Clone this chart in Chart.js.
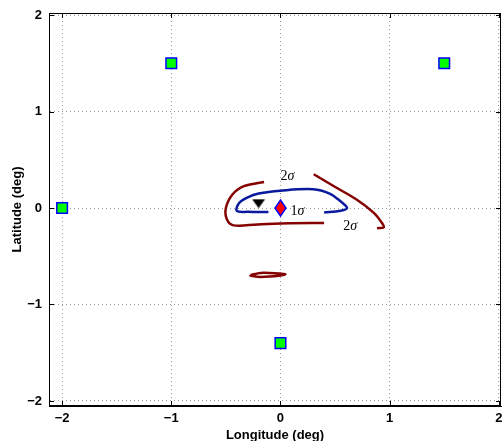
<!DOCTYPE html>
<html>
<head>
<meta charset="utf-8">
<script src="https://cdn.jsdelivr.net/npm/chart.js@4"></script>
<style>body{margin:0;background:#fff;overflow:hidden}</style>
</head>
<body>
<canvas id="Chart" width="502" height="441"></canvas>
<script>
const xTicks = [-2, -1, 0, 1, 2];
const yTicks = [-2, -1, 0, 1, 2];

// station positions (deg)
const stations = [[-1, 1.5], [1.5, 1.5], [-2, 0], [0, -1.4]];
const trueSource = [[0, 0]];
const bestFit = [[-0.2, 0.045]];

// 1 sigma contour
const contour1 = [
    [-0.11, -0.042], [-0.30, -0.040], [-0.40, -0.030], [-0.38, 0.05], [-0.30, 0.11],
    [-0.20, 0.15], [0.0, 0.18], [0.30, 0.195], [0.45, 0.15], [0.55, 0.07],
    [0.61, 0.0], [0.55, -0.028], [0.40, -0.046]
];
// 2 sigma contours
const contour2a = [
    [-0.15, 0.27], [-0.34, 0.225], [-0.44, 0.14], [-0.50, 0.0], [-0.49, -0.12],
    [-0.43, -0.18], [-0.21, -0.17], [0.09, -0.158], [0.40, -0.156]
];
const contour2b = [
    [0.305, 0.35], [0.49, 0.225], [0.70, 0.085], [0.855, -0.05], [0.93, -0.155],
    [0.946, -0.2], [0.885, -0.21]
];
const contour2c = [
    [-0.275, -0.695], [-0.18, -0.673], [0.0, -0.68], [0.046, -0.685], [0.0, -0.70],
    [-0.18, -0.715], [-0.275, -0.70], [-0.275, -0.695]
];

const sigmaLabels = [
    { x: 0.0, y: 0.33, n: '2' },
    { x: 0.092, y: -0.035, n: '1' },
    { x: 0.574, y: -0.19, n: '2' }
];

const pts = arr => arr.map(p => ({ x: p[0], y: p[1] }));
const fmt = v => v < 0 ? '\u2212' + Math.abs(v) : String(v);

function makeMarker(w, h, draw) {
    const c = document.createElement('canvas');
    c.width = w; c.height = h;
    draw(c.getContext('2d'), w, h);
    return c;
}
const diamond = makeMarker(13, 18, (g, w, h) => {
    g.beginPath();
    g.moveTo(w / 2, 1); g.lineTo(w - 1, h / 2); g.lineTo(w / 2, h - 1); g.lineTo(1, h / 2);
    g.closePath();
    g.fillStyle = '#ff0000'; g.fill();
    g.strokeStyle = '#0000ff'; g.lineWidth = 1.5; g.stroke();
});
const triangle = makeMarker(14, 10, (g, w, h) => {
    g.beginPath();
    g.moveTo(0.5, 0.5); g.lineTo(w - 0.5, 0.5); g.lineTo(w / 2, h - 0.5);
    g.closePath();
    g.fillStyle = '#000'; g.fill();
});

const frame = {
    id: 'frame',
    afterDraw(chart) {
        const { ctx, chartArea: a, scales: { x, y } } = chart;
        ctx.save();
        ctx.strokeStyle = '#000';
        ctx.lineWidth = 1;
        ctx.strokeRect(a.left + 0.5, a.top + 0.5, a.right - a.left - 1, a.bottom - a.top - 1);
        ctx.beginPath();
        xTicks.forEach(v => {
            const px = Math.round(x.getPixelForValue(v)) + 0.5;
            ctx.moveTo(px, a.bottom); ctx.lineTo(px, a.bottom - 5);
            ctx.moveTo(px, a.top); ctx.lineTo(px, a.top + 5);
        });
        yTicks.forEach(v => {
            const py = Math.round(y.getPixelForValue(v)) + 0.5;
            ctx.moveTo(a.left, py); ctx.lineTo(a.left + 5, py);
            ctx.moveTo(a.right, py); ctx.lineTo(a.right - 5, py);
        });
        ctx.stroke();

        ctx.fillStyle = '#000';
        ctx.textBaseline = 'middle';
        sigmaLabels.forEach(l => {
            const px = x.getPixelForValue(l.x), py = y.getPixelForValue(l.y);
            ctx.font = '14px "Liberation Serif"';
            ctx.fillText(l.n, px, py);
            const w = ctx.measureText(l.n).width;
            ctx.font = 'italic 14px "Liberation Serif"';
            ctx.fillText('\u03c3', px + w, py);
        });
        ctx.restore();
    }
};

const lineSet = (data, color) => ({
    data: pts(data),
    showLine: true,
    borderColor: color,
    borderWidth: 2.5,
    pointRadius: 0,
    tension: 0.35,
    fill: false
});

const tickFont = { family: '"Liberation Sans", Arial, sans-serif', size: 13, weight: 'bold' };

const noPad = s => { s.paddingLeft = 0; s.paddingRight = 0; s.paddingTop = 0; s.paddingBottom = 0; };

const ctx = document.getElementById('Chart').getContext('2d');
const chart = new Chart(ctx, {
    type: 'scatter',
    data: {
        datasets: [
            {
                data: pts(trueSource),
                pointStyle: diamond,
                pointRadius: 9
            },
            {
                data: pts(bestFit),
                pointStyle: triangle,
                pointRadius: 7
            },
            {
                data: pts(stations),
                pointStyle: 'rect',
                pointRadius: 7.5,
                backgroundColor: '#00ff00',
                borderColor: '#0000ff',
                borderWidth: 1.5
            },
            lineSet(contour1, '#0a1a9e'),
            lineSet(contour2a, '#850000'),
            lineSet(contour2b, '#850000'),
            lineSet(contour2c, '#850000')
        ]
    },
    options: {
        responsive: false,
        animation: false,
        layout: { autoPadding: false, padding: { top: 13, right: 1, left: 0, bottom: 0 } },
        plugins: { legend: { display: false }, tooltip: { enabled: false } },
        scales: {
            x: {
                type: 'linear',
                min: -2.12,
                max: 2.02,
                afterBuildTicks: s => { s.ticks = xTicks.map(v => ({ value: v })); },
                afterFit: s => { s.height = 35; noPad(s); },
                ticks: { callback: fmt, color: '#000', font: tickFont, padding: 5, maxRotation: 0 },
                grid: { color: '#999', drawTicks: false },
                border: { display: true, color: '#000', dash: [1, 3] },
                title: {
                    display: true, text: 'Longitude (deg)', color: '#000',
                    font: tickFont, padding: { top: 0, bottom: -2 }
                }
            },
            y: {
                type: 'linear',
                min: -2.052,
                max: 2.021,
                afterBuildTicks: s => { s.ticks = yTicks.map(v => ({ value: v })); },
                afterFit: s => { s.width = 49; noPad(s); },
                ticks: { callback: fmt, color: '#000', font: tickFont, padding: 7 },
                grid: { color: '#999', drawTicks: false },
                border: { display: true, color: '#000', dash: [1, 3] },
                title: {
                    display: true, text: 'Latitude (deg)', color: '#000',
                    font: tickFont, padding: { top: 10, bottom: 0 }
                }
            }
        }
    },
    plugins: [frame]
});
</script>
</body>
</html>
